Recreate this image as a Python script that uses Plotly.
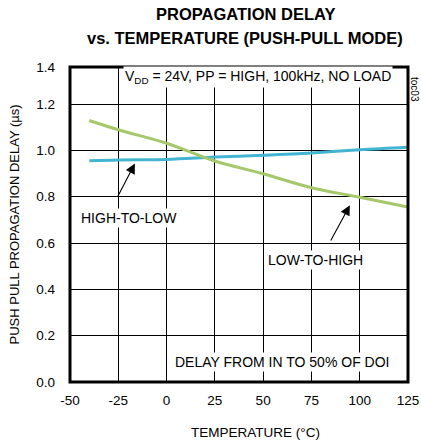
import plotly.graph_objects as go

# ---- data ----
temp = [-40, -25, 0, 25, 50, 75, 100, 125]
high_to_low = [0.955, 0.959, 0.961, 0.971, 0.979, 0.989, 1.003, 1.014]
low_to_high = [1.129, 1.089, 1.031, 0.954, 0.899, 0.839, 0.798, 0.755]

x_ticks = [-50, -25, 0, 25, 50, 75, 100, 125]
x_ticktext = ["-50", "-25", "0", "25", "50", "75", "100", "125"]
y_tickvals = [0.0, 0.2, 0.4, 0.6, 0.8, 1.0, 1.2, 1.36]
y_ticktext = ["0.0", "0.2", "0.4", "0.6", "0.8", "1.0", "1.2", "1.4"]

BLUE = "#44b5d0"
GREEN = "#a5c86a"
FONT = "Liberation Sans, Arial, sans-serif"

fig = go.Figure()
fig.add_trace(go.Scatter(x=temp, y=high_to_low, mode="lines", line=dict(color=BLUE, width=3, shape="spline"),
                         name="HIGH-TO-LOW", showlegend=False))
fig.add_trace(go.Scatter(x=temp, y=low_to_high, mode="lines", line=dict(color=GREEN, width=3, shape="spline"),
                         name="LOW-TO-HIGH", showlegend=False))

fig.update_layout(
    width=421, height=445,
    margin=dict(l=70, r=13, t=67, b=63, autoexpand=False),
    paper_bgcolor="white", plot_bgcolor="white",
    font=dict(family=FONT, size=13, color="black"),
    xaxis=dict(range=[-50, 125], tickvals=x_ticks, ticktext=x_ticktext, showgrid=True, gridcolor="black",
               gridwidth=1, zeroline=False, showline=False, ticks="", ticklabelstandoff=8,
               tickfont=dict(size=13.5), automargin=False),
    yaxis=dict(range=[0, 1.36], tickvals=y_tickvals, ticktext=y_ticktext, showgrid=True,
               gridcolor="black", gridwidth=1, zeroline=False, showline=False, ticks="",
               ticklabelstandoff=14, tickfont=dict(size=13.5), automargin=False),
)

# frame
fig.add_shape(type="rect", xref="paper", yref="paper", x0=0, x1=1, y0=0, y1=1,
              line=dict(color="black", width=3), layer="above")

ann = []
# titles
ann.append(dict(text="<b>PROPAGATION DELAY</b>", xref="paper", yref="paper", x=(245-70)/338, y=1,
                yshift=67-14, showarrow=False, font=dict(size=16.5), xanchor="center", yanchor="middle"))
ann.append(dict(text="<b>vs. TEMPERATURE (PUSH-PULL MODE)</b>", xref="paper", yref="paper", x=(245-70)/338, y=1,
                yshift=67-37.5, showarrow=False, font=dict(size=16.5), xanchor="center", yanchor="middle"))
# axis titles
ann.append(dict(text="TEMPERATURE (°C)", xref="paper", yref="paper", x=(255-70)/338, y=0,
                yshift=-(432-382), showarrow=False, font=dict(size=13.5), xanchor="center", yanchor="middle"))
ann.append(dict(text="PUSH PULL PROPAGATION DELAY (µs)", xref="paper", yref="paper", x=0, y=0.5,
                xshift=-(70-14), showarrow=False, textangle=-90, font=dict(size=13),
                xanchor="center", yanchor="middle"))
# labels in plot
ann.append(dict(text="V<sub>DD</sub> = 24V, PP = HIGH, 100kHz, NO LOAD", x=47.3, y=1.315, showarrow=False,
                bgcolor="white", font=dict(size=14), xanchor="center", yanchor="middle"))
ann.append(dict(text="DELAY FROM IN TO 50% OF DOI", x=59.7, y=0.085, showarrow=False,
                bgcolor="white", font=dict(size=14), xanchor="center", yanchor="middle"))
ann.append(dict(text="HIGH-TO-LOW", x=-19.5, y=0.706, showarrow=False,
                bgcolor="white", font=dict(size=14), xanchor="center", yanchor="middle"))
ann.append(dict(text="LOW-TO-HIGH", x=77.3, y=0.525, showarrow=False,
                bgcolor="white", font=dict(size=14), xanchor="center", yanchor="middle"))
# arrows
ann.append(dict(text="", x=-16.4, y=0.943, ax=-25.8, ay=0.792, axref="x", ayref="y",
                showarrow=True, arrowhead=2, arrowsize=1.8, arrowwidth=1.1, arrowcolor="black"))
ann.append(dict(text="", x=94.9, y=0.763, ax=84.6, ay=0.604, axref="x", ayref="y",
                showarrow=True, arrowhead=2, arrowsize=1.8, arrowwidth=1.1, arrowcolor="black"))
# code
ann.append(dict(text="toc03", xref="paper", yref="paper", x=1, y=1, xshift=7, yshift=-22,
                showarrow=False, textangle=90, font=dict(size=10), xanchor="center", yanchor="middle"))
fig.update_layout(annotations=ann)

fig.write_html("out.html", config={"displayModeBar": False},
               post_script="document.body.style.margin='0';document.body.style.overflow='hidden';")
